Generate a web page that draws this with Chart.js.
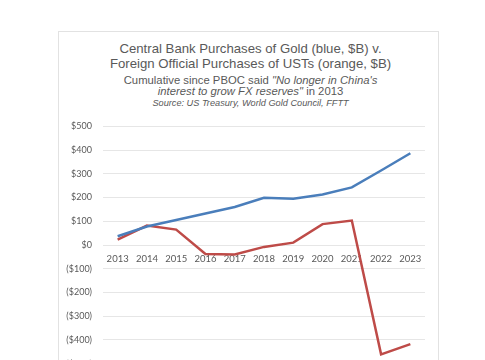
<!DOCTYPE html>
<html>
<head>
<meta charset="utf-8">
<script src="https://cdn.jsdelivr.net/npm/chart.js@4/dist/chart.umd.min.js"></script>
<style>
  html, body { margin: 0; padding: 0; background: #ffffff; overflow: hidden; }
  #card { position: absolute; left: 58px; top: 31px; width: 379px; height: 400px; border: 1px solid #e2e2e2; background: #fff; }
  .t { position: absolute; left: 2px; width: 100%; text-align: center; color: #595959; font-family: "Liberation Sans", Arial, sans-serif; white-space: nowrap; }
  #l1 { top: 9px; font-size: 13.2px; }
  #l2 { top: 24px; font-size: 13.2px; }
  #l3 { top: 42px; font-size: 11.3px; }
  #l4 { top: 53px; font-size: 11.3px; }
  #l5 { top: 66px; font-size: 9.2px; font-style: italic; }
  i { font-style: italic; }
  #wrap { position: absolute; left: 58px; top: 110px; width: 380px; height: 270px; }
</style>
</head>
<body>
<div id="card">
  <div class="t" id="l1">Central Bank Purchases of Gold (blue, $B) v.</div>
  <div class="t" id="l2">Foreign Official Purchases of USTs (orange, $B)</div>
  <div class="t" id="l3">Cumulative since PBOC said <i>"No longer in China's</i></div>
  <div class="t" id="l4"><i>interest to grow FX reserves"</i> in 2013</div>
  <div class="t" id="l5">Source: US Treasury, World Gold Council, FFTT</div>
</div>
<div id="wrap"><canvas id="c"></canvas></div>
<script>
const years = ["2013","2014","2015","2016","2017","2018","2019","2020","2021","2022","2023"];
const goldPurchases = [37, 78, 105, 133, 160, 199, 195, 213, 243, 314, 387];
const ustPurchases = [23, 82, 65, -38, -40, -8, 10, 88, 103, -461, -418];
const yTicks = [500, 400, 300, 200, 100, 0, -100, -200, -300, -400, -500];

new Chart(document.getElementById('c'), {
  type: 'line',
  data: {
    labels: years,
    datasets: [
      { label: 'Gold', data: goldPurchases, borderColor: '#4a7ebb', borderWidth: 2.5, pointRadius: 0, tension: 0, fill: false },
      { label: 'USTs', data: ustPurchases, borderColor: '#be4b48', borderWidth: 2.5, pointRadius: 0, tension: 0, fill: false }
    ]
  },
  options: {
    responsive: true,
    maintainAspectRatio: false,
    animation: false,
    events: [],
    layout: { padding: { top: 10, right: 13, bottom: 14, left: 0 } },
    plugins: { legend: { display: false }, tooltip: { enabled: false }, title: { display: false } },
    scales: {
      x: {
        position: { y: 0 },
        offset: true,
        grid: { display: false, drawTicks: false },
        border: { display: false },
        ticks: { color: '#595959', padding: 8, maxRotation: 0, autoSkip: false, font: { family: 'Lato, "Liberation Sans", sans-serif', size: 9.5 } }
      },
      y: {
        min: -500, max: 500,
        afterBuildTicks: (s) => { s.ticks = yTicks.map(v => ({ value: v })); },
        afterFit: (s) => { s.width = 45; },
        grid: { color: '#e6e6e6', lineWidth: 1, drawTicks: false },
        border: { display: false },
        ticks: {
          color: '#595959', padding: 11,
          font: { family: 'Lato, "Liberation Sans", sans-serif', size: 9 },
          callback: (v) => v < 0 ? '($' + Math.abs(v) + ')' : '$' + v
        }
      }
    }
  }
});
</script>
</body>
</html>
